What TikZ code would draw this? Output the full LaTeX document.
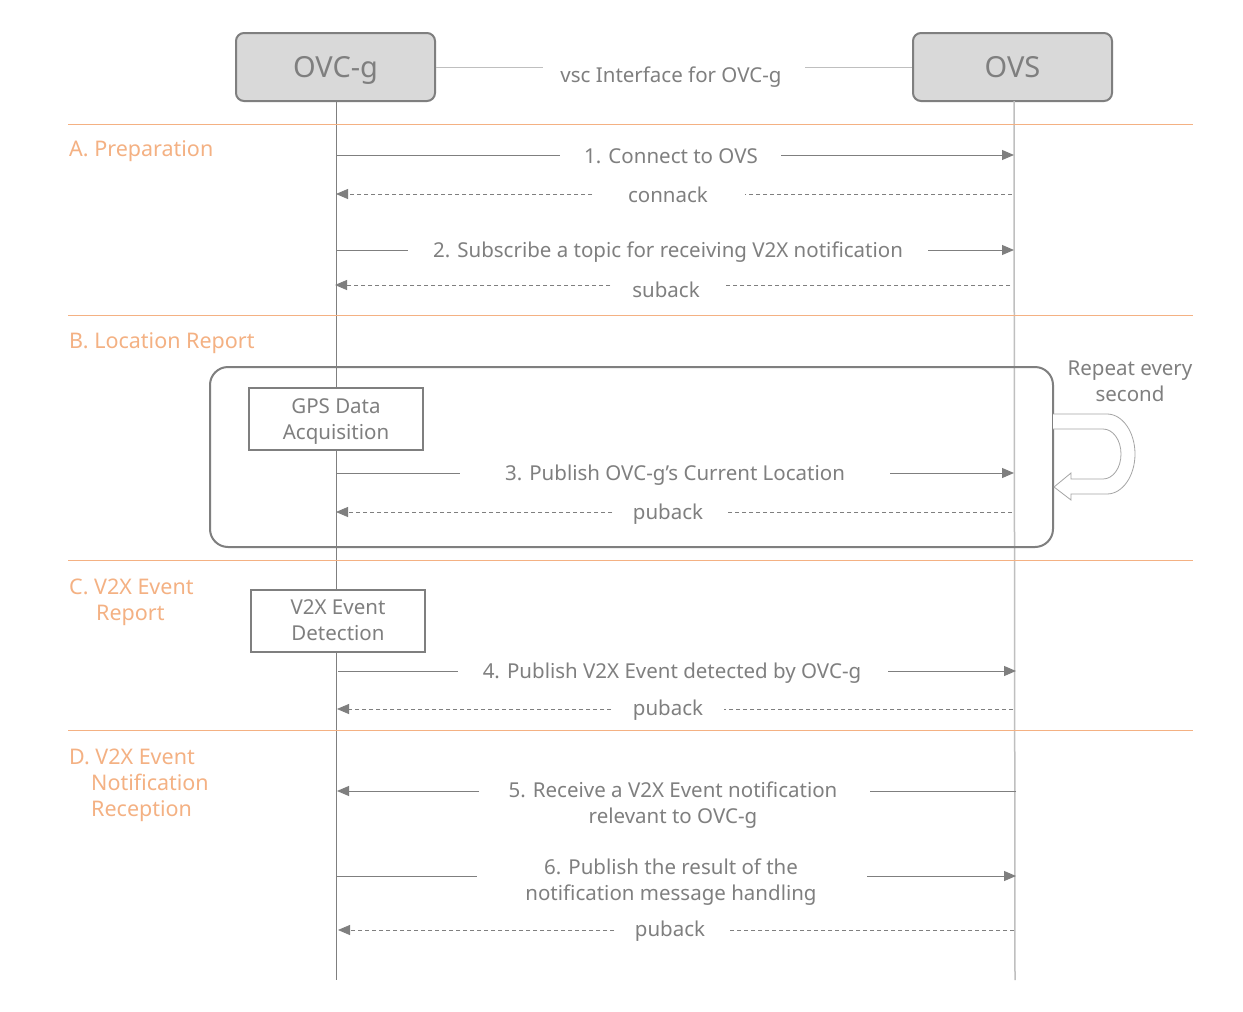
\documentclass[tikz,border=0pt]{standalone}
\usepackage{fontspec}
\setmainfont{Noto Sans}
\usetikzlibrary{arrows.meta}
\definecolor{tgray}{HTML}{7F7F7F}
\definecolor{lgray}{HTML}{BFBFBF}
\definecolor{hfill}{HTML}{D9D9D9}
\definecolor{sorange}{HTML}{F4B183}
\begin{document}
\begin{tikzpicture}[x=1pt,y=-1pt,
  actor/.style={draw=tgray,line width=2pt,fill=hfill,rounded corners=8pt,
    minimum width=199pt,minimum height=68pt,text=tgray,
    text height=20.7pt,text depth=0pt,
    font=\fontsize{29}{32}\selectfont},
  txt/.style={text=tgray,font=\fontsize{20.5}{26}\selectfont,align=center,inner sep=0pt},
  seclabel/.style={text=sorange,font=\fontsize{21.5}{26}\selectfont,align=left,anchor=north west,inner sep=0pt},
  sep/.style={draw=sorange,line width=1pt},
  life/.style={draw=tgray,line width=1pt},
  msg/.style={draw=tgray,line width=1pt},
  ret/.style={draw=tgray,line width=0.8pt,dash pattern=on 4pt off 3pt},
  tip/.style={-{Triangle[length=12pt,width=10pt]}},
  actbox/.style={draw=tgray,line width=2pt,fill=white,minimum width=174pt,minimum height=62pt,
    text=tgray,font=\fontsize{20.5}{26}\selectfont,align=center,inner sep=0pt,text depth=0pt},
]
\useasboundingbox[fill=white] (0,0) rectangle (1243,1012);

% participants and the interface between them
\node[actor] (ovc) at (335.5,67) {OVC-g};
\node[actor] (ovs) at (1012.5,67) {OVS};
\node[txt] (vsc) at (671,77) {vsc Interface for OVC-g};
\coordinate (vl) at (543,67);
\coordinate (vr) at (805,67);
\draw[lgray,line width=1pt] (ovc.east) -- (vl);
\draw[lgray,line width=1pt] (vr) -- (ovs.west);

% lifelines
\coordinate (ovcend) at (336,980);
\coordinate (ovsend) at (1015,980);
\draw[life] (336,101) -- (ovcend);
\draw[lgray,line width=1.5pt] (1014,101) -- (ovsend);

% section separators
\foreach \y in {124,315,560,730} \draw[sep] (68,\y) -- (1193,\y);

% section titles
\node[seclabel] (secA) at (69,140) {A. Preparation};
\node[seclabel] (secB) at (69,332) {B. Location Report};
\node[seclabel] (secC) at (69,579) {C. V2X Event\\\hspace*{27pt}Report};
\node[seclabel] (secD) at (69,749) {D. V2X Event\\\hspace*{22pt}Notification\\\hspace*{22pt}Reception};

% ---- A. Preparation
\node[txt] (m1) at (671,156) {1. Connect to OVS};
\draw[msg] (336,155) -- (560,155);
\draw[msg,tip] (781,155) -- (1014,155);

\node[txt] (r1) at (668,195) {connack};
\draw[ret] (1012,194) -- (745,194);
\draw[ret,tip] (592,194) -- (336,194);

\node[txt] (m2) at (668,252) {2. Subscribe a topic for receiving V2X notification};
\draw[msg] (336,250) -- (408,250);
\draw[msg,tip] (928,250) -- (1014,250);

\node[txt] (r2) at (666,290) {suback};
\draw[ret] (1010,285) -- (725,285);
\draw[ret,tip] (610,285) -- (335,285);

% ---- B. Location Report
\draw[tgray,line width=2pt,rounded corners=18pt] (210,367) rectangle (1053,547);
\node[actbox] (gps) at (336,419) {GPS Data\\Acquisition};

\node[txt] (m3) at (675,475) {3. Publish OVC-g’s Current Location};
\draw[msg] (336,473) -- (460,473);
\draw[msg,tip] (890,473) -- (1014,473);

\node[txt] (r3) at (668,514) {puback};
\draw[ret] (1012,512) -- (728,512);
\draw[ret,tip] (612,512) -- (336,512);

% repeat loop mark
\node[txt] (rep) at (1130,381) {Repeat every\\second};
\draw[tgray!70,line width=0.8pt,fill=white]
  (1053,414) -- (1107,414)
  .. controls (1122.5,414) and (1135,432) .. (1135,454)
  .. controls (1135,476) and (1122.5,494) .. (1107,494)
  -- (1071,494) -- (1071,500) -- (1054,487) -- (1071,473) -- (1071,479)
  -- (1103,479)
  .. controls (1113,479) and (1121,468) .. (1121,454)
  .. controls (1121,440) and (1113,429) .. (1103,429)
  -- (1053,429);

% ---- C. V2X Event Report
\node[actbox] (det) at (338,620.5) {V2X Event\\Detection};

\node[txt] (m4) at (672,673) {4. Publish V2X Event detected by OVC-g};
\draw[msg] (338,671) -- (458,671);
\draw[msg,tip] (888,671) -- (1016,671);

\node[txt] (r4) at (668,710) {puback};
\draw[ret] (1013,709) -- (724,709);
\draw[ret,tip] (611,709) -- (337,709);

% ---- D. V2X Event Notification Reception
\node[txt] (m5) at (673,805) {5. Receive a V2X Event notification\\relevant to OVC-g};
\draw[msg] (1016,791) -- (870,791);
\draw[msg,tip] (479,791) -- (337,791);

\node[txt] (m6) at (671,882) {6. Publish the result of the\\notification message handling};
\draw[msg] (337,876) -- (477,876);
\draw[msg,tip] (867,876) -- (1016,876);

\node[txt] (r6) at (670,931) {puback};
\draw[ret] (1014,930) -- (730,930);
\draw[ret,tip] (614,930) -- (338,930);
\end{tikzpicture}
\end{document}
